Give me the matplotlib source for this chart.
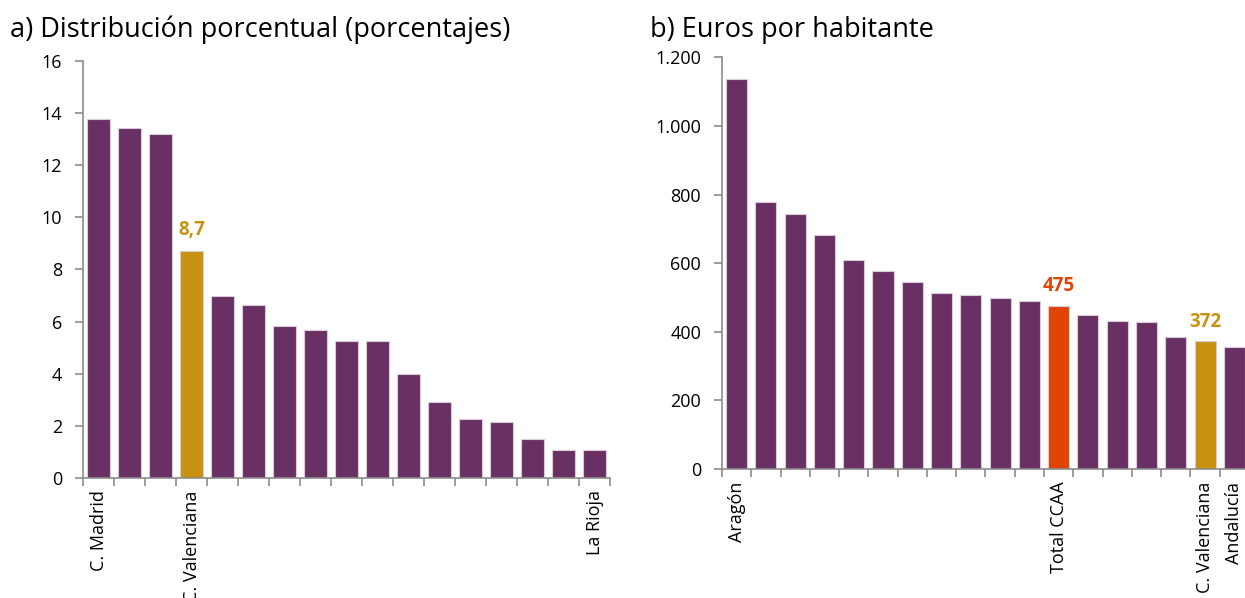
import numpy as np
import matplotlib
matplotlib.use('Agg')
from matplotlib import pyplot as plt
from matplotlib.ticker import FuncFormatter

plt.rcParams['font.family'] = ['Open Sans', 'DejaVu Sans']

# a) Distribucion porcentual
labels_a = ['C. Madrid', '', '', 'C. Valenciana', '', '', '', '', '', '', '', '', '', '', '', '', 'La Rioja']
values_a = [13.76, 13.42, 13.19, 8.7, 7.0, 6.64, 5.83, 5.67, 5.27, 5.26, 3.98, 2.9, 2.26, 2.15, 1.5, 1.07, 1.07]

# b) Euros por habitante
labels_b = ['Aragón', '', '', '', '', '', '', '', '', '', '', 'Total CCAA', '', '', '', '', 'C. Valenciana', 'Andalucía']
values_b = [1137, 777, 744, 681, 609, 578, 546, 514, 506, 498, 489, 475, 450, 431, 428, 385, 372, 355]

PURPLE = '#693064'
GOLD = '#C89211'
RED = '#E04403'
GREY = '#8c8c8c'

def bar_colors(labels):
    cols = []
    for l in labels:
        if l == 'C. Valenciana':
            cols.append(GOLD)
        elif l == 'Total CCAA':
            cols.append(RED)
        else:
            cols.append(PURPLE)
    return cols

def style_axis(ax, n):
    for s in ['top', 'right']:
        ax.spines[s].set_visible(False)
    for s in ['left', 'bottom']:
        ax.spines[s].set_color(GREY)
        ax.spines[s].set_linewidth(1.2)
    ax.set_xlim(-0.5, n - 0.5)
    ax.set_xticks(np.arange(n))
    ax.set_xticks(np.arange(n + 1) - 0.5, minor=True)
    ax.tick_params(axis='x', which='major', length=0, pad=9, labelsize=13, labelrotation=90)
    ax.tick_params(axis='x', which='minor', length=6, width=1.2, color=GREY, direction='out')
    ax.tick_params(axis='y', length=6, width=1.2, color=GREY, labelsize=13, pad=9)

fig = plt.figure(figsize=(12.45, 5.98), dpi=100)

# left panel
ax1 = fig.add_axes([0.0667, 0.2007, 0.4233, 0.6973])
x1 = np.arange(len(values_a))
ax1.bar(x1, values_a, width=0.72, color=bar_colors(labels_a), edgecolor='#d9cbd8', linewidth=0.8)
style_axis(ax1, len(values_a))
ax1.set_ylim(0, 16)
ax1.set_yticks(np.arange(0, 17, 2))
ax1.set_xticklabels(labels_a)
i = labels_a.index('C. Valenciana')
ax1.text(x1[i], values_a[i] + 0.45, ('%.1f' % values_a[i]).replace('.', ','), color=GOLD,
         fontsize=13.5, fontweight='bold', ha='center', va='bottom')
fig.text(0.008, 0.95, 'a) Distribución porcentual (porcentajes)', fontsize=19.5, va='center', ha='left')

# right panel
ax2 = fig.add_axes([0.5799, 0.2157, 0.4233, 0.6885])
x2 = np.arange(len(values_b))
ax2.bar(x2, values_b, width=0.72, color=bar_colors(labels_b), edgecolor='#d9cbd8', linewidth=0.8)
style_axis(ax2, len(values_b))
ax2.set_ylim(0, 1200)
ax2.set_yticks(np.arange(0, 1201, 200))
ax2.yaxis.set_major_formatter(FuncFormatter(lambda v, p: '{:,.0f}'.format(v).replace(',', '.')))
ax2.set_xticklabels(labels_b)
for name, col in [('Total CCAA', RED), ('C. Valenciana', GOLD)]:
    j = labels_b.index(name)
    ax2.text(x2[j], values_b[j] + 28, '%d' % values_b[j], color=col,
             fontsize=13.5, fontweight='bold', ha='center', va='bottom')
fig.text(0.522, 0.95, 'b) Euros por habitante', fontsize=19.5, va='center', ha='left')

fig.savefig('out.png', dpi=100)
